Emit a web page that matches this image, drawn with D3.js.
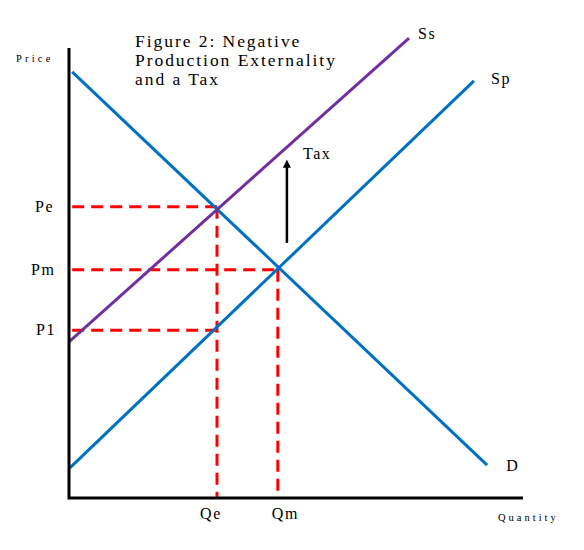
<!DOCTYPE html>
<html>
<head>
<meta charset="utf-8">
<script src="https://cdn.jsdelivr.net/npm/d3@7/dist/d3.min.js"></script>
<style>
  html, body { margin: 0; padding: 0; background: #fff; }
  svg { display: block; }
  text { font-family: "Liberation Serif", "Times New Roman", serif; fill: #000; }
</style>
</head>
<body>
<svg id="chart" width="584" height="550"></svg>
<script>
// ---- data (quantity, price) in chart units ----
const demandLine = [[0.7, 94.7], [92.1, 7.3]];
const privateSupplyLine = [[0.2, 6.7], [89.2, 92.7]];
const socialSupplyLine = [[0.0, 34.7], [74.9, 102.2]];
const curveNames = ["D", "Sp", "Ss"];
const priceLabels = ["Pe", "Pm", "P1"];
const priceValues = [64.7, 50.7, 37.3];
const priceQuantities = [32.6, 46.0, 32.6];
const quantityLabels = ["Qe", "Qm"];
const quantityValues = [32.6, 46.0];
const quantityPrices = [64.7, 50.7];
const taxArrow = [[48.0, 56.7], [48.0, 75.3]];
const titleLines = ["Figure 2: Negative", "Production Externality", "and a Tax"];
const axisTitles = ["Price", "Quantity"];

const svg = d3.select("#chart");
const x = d3.scaleLinear().domain([0, 100]).range([69, 523]);
const y = d3.scaleLinear().domain([0, 100]).range([498, 48]);
const line = d3.line().x(d => x(d[0])).y(d => y(d[1]));

// title
const title = svg.append("text").attr("x", 135).attr("y", 47)
  .style("font-size", "17.5px").style("letter-spacing", "1.95px");
titleLines.forEach((t, i) => {
  title.append("tspan").attr("x", 135).attr("y", 47 + i * 19).text(t);
});

// dashed guides
const red = "#FF0000";
priceValues.forEach((p, i) => {
  svg.append("path").attr("d", line([[0.7, p], [priceQuantities[i], p]]))
    .attr("stroke", red).attr("stroke-width", 3).attr("fill", "none")
    .attr("stroke-dasharray", "12,7");
});
quantityValues.forEach((q, i) => {
  svg.append("path").attr("d", line([[q, quantityPrices[i]], [q, 0]]))
    .attr("stroke", red).attr("stroke-width", 3).attr("fill", "none")
    .attr("stroke-dasharray", "12,7");
});

// curves
const curves = [
  { data: demandLine, color: "#0070C0" },
  { data: privateSupplyLine, color: "#0070C0" },
  { data: socialSupplyLine, color: "#7030A0" }
];
curves.forEach(c => {
  svg.append("path").attr("d", line(c.data))
    .attr("stroke", c.color).attr("stroke-width", 3).attr("fill", "none");
});

// axes
svg.append("path").attr("d", line([[0, 100], [0, 0], [100, 0]]))
  .attr("stroke", "#000").attr("stroke-width", 3).attr("fill", "none");

// arrow
svg.append("defs").append("marker").attr("id", "ah")
  .attr("viewBox", "0 0 10 10").attr("refX", 5).attr("refY", 5)
  .attr("markerWidth", 8).attr("markerHeight", 8).attr("markerUnits", "userSpaceOnUse")
  .attr("orient", "auto")
  .append("path").attr("d", "M0,0 L10,5 L0,10 Z").attr("fill", "#000");
svg.append("path").attr("d", line([taxArrow[0], [taxArrow[1][0], taxArrow[1][1] - 1.0]]))
  .attr("stroke", "#000").attr("stroke-width", 2.5).attr("fill", "none")
  .attr("marker-end", "url(#ah)");
svg.append("text").attr("x", x(taxArrow[1][0]) + 16).attr("y", y(taxArrow[1][1]))
  .style("font-size", "16px").style("letter-spacing", "1.6px").text("Tax");

// curve labels
const curveEnds = [demandLine[1], privateSupplyLine[1], socialSupplyLine[1]];
const curveDx = [19, 17, 9];
const curveDy = [6, 3, 1];
curveNames.forEach((n, i) => {
  svg.append("text").attr("x", x(curveEnds[i][0]) + curveDx[i]).attr("y", y(curveEnds[i][1]) + curveDy[i])
    .style("font-size", "16px").style("letter-spacing", "1.6px").text(n);
});

// price labels
const priceDx = [-34, -38, -33];
priceLabels.forEach((l, i) => {
  svg.append("text").attr("x", x(0) + priceDx[i]).attr("y", y(priceValues[i]) + 5)
    .style("font-size", "16px").style("letter-spacing", "1.5px").text(l);
});

// quantity labels
const qDx = [-17, -6];
quantityLabels.forEach((l, i) => {
  svg.append("text").attr("x", x(quantityValues[i]) + qDx[i]).attr("y", 519)
    .style("font-size", "16px").style("letter-spacing", "1.6px").text(l);
});

// axis titles
svg.append("text").attr("x", 16).attr("y", 62)
  .style("font-size", "10.5px").style("letter-spacing", "3.2px").text(axisTitles[0]);
svg.append("text").attr("x", 498).attr("y", 521)
  .style("font-size", "10.5px").style("letter-spacing", "3.0px").text(axisTitles[1]);
</script>
</body>
</html>
